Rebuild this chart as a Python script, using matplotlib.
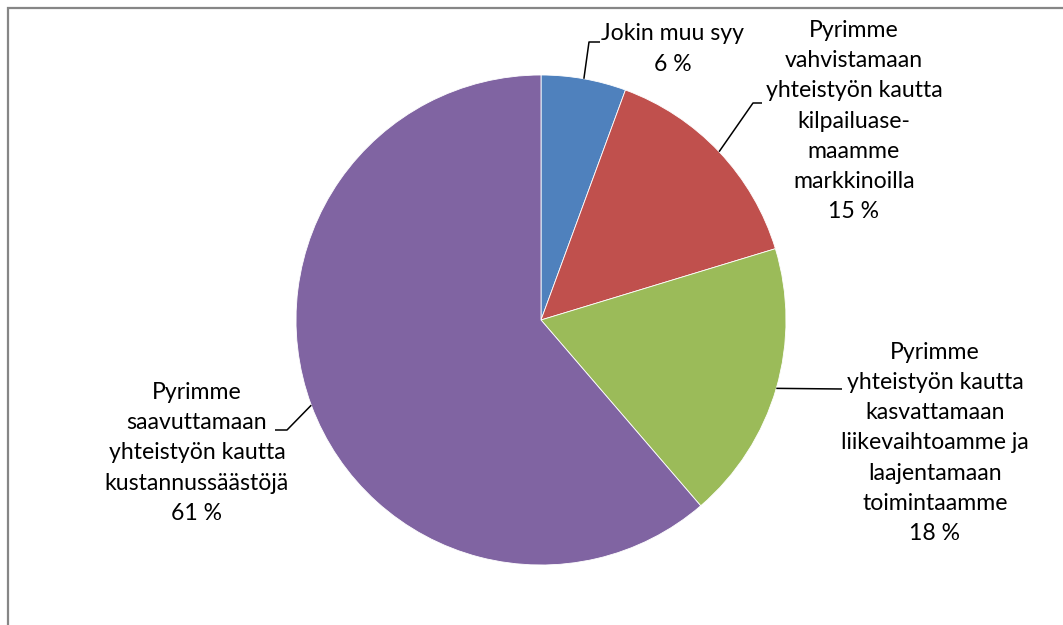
import numpy as np
import matplotlib
matplotlib.use("Agg")
import matplotlib.pyplot as plt
from matplotlib.patches import Rectangle

plt.rcParams['font.family'] = ['Lato', 'DejaVu Sans']

# data (osuudet luettu kuvasta, %)
labels = ["Jokin muu syy",
          "Pyrimme\nvahvistamaan\nyhteistyön kautta\nkilpailuase-\nmaamme\nmarkkinoilla",
          "Pyrimme\nyhteistyön kautta\nkasvattamaan\nliikevaihtoamme ja\nlaajentamaan\ntoimintaamme",
          "Pyrimme\nsaavuttamaan\nyhteistyön kautta\nkustannussäästöjä"]
shares = [5.6, 14.7, 18.4, 61.3]
colors = ['#4F81BD', '#C0504D', '#9BBB59', '#8064A2']

W, H = 1063, 625
cx, cy, R = 541, 320, 245   # pie centre / radius in pixels

fig = plt.figure(figsize=(W / 100, H / 100), dpi=100)
# frame of the chart area (runs off the right and bottom edges)
fig.patches.append(Rectangle((7.5 / W, -0.1), 1.2, (H - 7.5) / H + 0.1,
                             transform=fig.transFigure, fill=False,
                             edgecolor='#868686', linewidth=1.6))

ax = fig.add_axes([0, 0, 1, 1])
wedges, _ = ax.pie(shares, colors=colors, startangle=90, counterclock=False,
                   radius=1.0, center=(0, 0),
                   wedgeprops=dict(edgecolor='white', linewidth=0.6))
# pie() resets the limits, so set them afterwards
ax.set_xlim((0 - cx) / R, (W - cx) / R)
ax.set_ylim((cy - H) / R, cy / R)
ax.set_aspect('equal')
ax.axis('off')


def px(x, y):
    return (x - cx) / R, (cy - y) / R


# label text positions (pixel centre of text block) and leader elbow / end
text_pos = [(673, 49), (854, 121), (935, 443), (197, 453)]
leaders = [[(589, 42), (600, 42)],
           [(753, 103), (762, 103)],
           [(842, 389)],
           [(287, 430), (275, 430)]]

for i, w in enumerate(wedges):
    mid = np.deg2rad((w.theta1 + w.theta2) / 2)
    start = (np.cos(mid), np.sin(mid))
    pts = [start] + [px(*p) for p in leaders[i]]
    xs, ys = zip(*pts)
    ax.plot(xs, ys, color='black', linewidth=1.1, solid_capstyle='butt')
    txt = "%s\n%.0f %%" % (labels[i], shares[i])
    tx, ty = px(*text_pos[i])
    ax.text(tx, ty, txt, ha='center', va='center', multialignment='center',
            fontsize=16.6, linespacing=1.53, color='black')

fig.savefig('out.png', dpi=100)
